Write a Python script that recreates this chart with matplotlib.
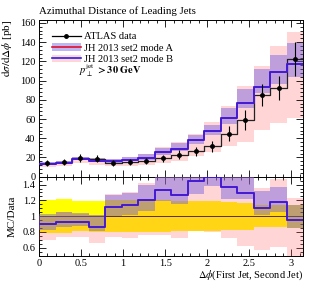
import numpy as np
import matplotlib
matplotlib.use('Agg')
from matplotlib import pyplot as plt
from matplotlib.lines import Line2D
from matplotlib.patches import Patch
from matplotlib.ticker import MultipleLocator, FormatStrFormatter

plt.rcParams['font.family'] = ['Liberation Serif', 'DejaVu Serif']
plt.rcParams['mathtext.fontset'] = 'stix'
plt.rcParams['font.size'] = 7.5

# %% data (16 bins in delta phi between 0 and pi)

edges = np.linspace(0, np.pi, 17)
centres = 0.5 * (edges[:-1] + edges[1:])

data = [14.5, 15.3, 19.4, 18.7, 14.5, 15.6, 16.6, 19.1,
        22.9, 26.4, 31.6, 44.7, 58.9, 84.9, 92.2, 122.3]
data_err = [3.0, 3.3, 3.7, 3.7, 2.9, 3.1, 3.3, 3.8,
            4.4, 5.0, 6.0, 8.0, 10.0, 11.5, 12.5, 18.0]

# central MC value (mode A and mode B coincide)
mc = [13.0, 14.2, 18.0, 16.1, 16.1, 17.8, 19.9, 25.4,
      29.1, 38.0, 47.4, 61.0, 76.5, 93.5, 108.5, 116.8]

# mode A uncertainty band
a_lo = [11.9, 13.2, 16.9, 15.3, 14.5, 15.9, 17.6, 22.7,
        26.3, 33.8, 43.6, 54.5, 71.9, 86.6, 96.8, 104.0]
a_hi = [14.9, 16.2, 20.2, 19.1, 18.3, 20.1, 23.2, 29.6,
        35.5, 43.6, 53.7, 71.5, 91.3, 112.1, 126.3, 139.4]

# mode B uncertainty band
b_lo = [10.2, 11.3, 14.4, 12.3, 10.7, 11.2, 12.6, 14.5,
        16.5, 21.6, 25.3, 32.2, 36.5, 48.4, 56.2, 61.2]
b_hi = [14.5, 16.1, 20.0, 19.1, 18.6, 20.4, 23.6, 30.6,
        36.6, 44.9, 56.9, 73.8, 94.2, 115.5, 135.5, 150.4]

data = np.array(data)
data_err = np.array(data_err)
mc = np.array(mc)
a_lo, a_hi = np.array(a_lo), np.array(a_hi)
b_lo, b_hi = np.array(b_lo), np.array(b_hi)

pink = (1.0, 0.35, 0.35)
lav = (0.435, 0.37, 0.89)
blue = '#2a1cf0'
red = '#e0102a'


def step(y):
    # last value repeated so fill_between / step cover the whole last bin
    return np.append(y, y[-1])


# %% figure

fig = plt.figure(figsize=(3.13, 2.82), dpi=100)
ax = fig.add_axes([0.1246, 0.3734, 0.8444, 0.5556])
rx = fig.add_axes([0.1246, 0.0933, 0.8444, 0.2801], sharex=ax)

# main panel
ax.fill_between(edges, step(b_lo), step(b_hi), step='post',
                color=pink, alpha=0.25, lw=0, zorder=1)
ax.fill_between(edges, step(a_lo), step(a_hi), step='post',
                color=lav, alpha=0.45, lw=0, zorder=2)
ax.step(edges, step(data), where='post', color='#222222', lw=0.9, zorder=3)
ax.step(edges, step(mc), where='post', color=red, lw=1.2, zorder=4)
ax.step(edges, step(mc), where='post', color=blue, lw=1.2, zorder=5)
ax.errorbar(centres, data, yerr=data_err, fmt='o', color='black',
            ms=2.5, elinewidth=0.8, capsize=0, zorder=6)

ax.set_xlim(0, np.pi)
ax.set_ylim(0, 163)
ax.yaxis.set_major_locator(MultipleLocator(20))
ax.yaxis.set_minor_locator(MultipleLocator(4))
ax.xaxis.set_major_locator(MultipleLocator(0.5))
ax.xaxis.set_minor_locator(MultipleLocator(0.1))
ax.tick_params(labelbottom=False)
ax.set_ylabel(r'$\mathrm{d}\sigma/\mathrm{d}\Delta\phi$ [pb]', loc='top',
              fontsize=8)
ax.set_title('Azimuthal Distance of Leading Jets', loc='left', fontsize=7.8,
             pad=4)

handles = [
    Line2D([], [], color='black', marker='o', ms=2.5, lw=0.9),
    (Patch(color=lav, alpha=0.45, lw=0), Line2D([], [], color=red, lw=1.2)),
    (Patch(color=pink, alpha=0.25, lw=0), Line2D([], [], color=blue, lw=1.2)),
]
labels = ['ATLAS data', 'JH 2013 set2 mode A', 'JH 2013 set2 mode B']
ax.legend(handles, labels, loc='upper left', frameon=False, fontsize=7.5,
          handlelength=2.7, handletextpad=0.35, labelspacing=0.2,
          borderaxespad=0.0, bbox_to_anchor=(0.035, 0.95))
ax.text(0.152, 0.675, r'$p_\perp^{\rm jet}$ $\mathbf{> 30\ GeV}$',
        transform=ax.transAxes, fontsize=7.5, va='center')

# ratio panel
rx.fill_between(edges, step(1 - data_err / data), step(1 + data_err / data),
                step='post', color='#ffff00', lw=0, zorder=1)
rx.axhline(1, color='#222222', lw=0.7, zorder=2)
rx.fill_between(edges, step(b_lo / data), step(b_hi / data), step='post',
                color=pink, alpha=0.25, lw=0, zorder=3)
rx.fill_between(edges, step(a_lo / data), step(a_hi / data), step='post',
                color=lav, alpha=0.45, lw=0, zorder=4)
rx.step(edges, step(mc / data), where='post', color=red, lw=1.2, zorder=5)
rx.step(edges, step(mc / data), where='post', color=blue, lw=1.2, zorder=6)

rx.set_ylim(0.5, 1.5)
rx.yaxis.set_major_locator(MultipleLocator(0.2))
rx.yaxis.set_minor_locator(MultipleLocator(0.05))
rx.yaxis.set_major_formatter(FormatStrFormatter('%g'))
rx.xaxis.set_major_formatter(FormatStrFormatter('%g'))
rx.set_ylabel('MC/Data', fontsize=8)
rx.set_xlabel(r'$\Delta\phi$(First Jet, Second Jet)', loc='right',
              labelpad=0, fontsize=7.5)

for a in (ax, rx):
    a.tick_params(which='both', direction='in', top=True, right=True,
                  width=0.6, labelsize=7.5, pad=2.5)
    a.tick_params(which='major', length=5)
    a.tick_params(which='minor', length=2.5)
    for s in a.spines.values():
        s.set_linewidth(0.7)

fig.align_ylabels([ax, rx])
fig.savefig('out.png', dpi=100)
